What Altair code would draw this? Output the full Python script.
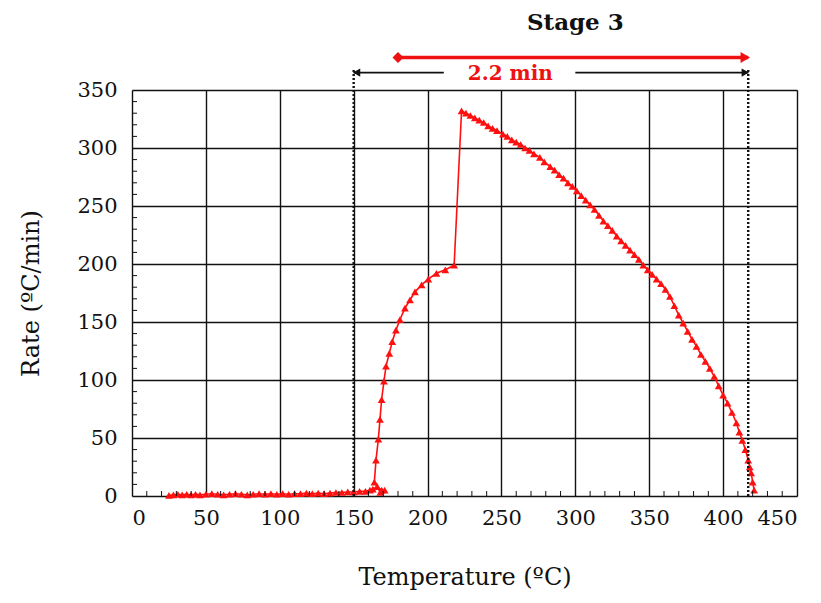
import altair as alt
import pandas as pd

# ---- data ----
temp = [25, 28, 31, 34, 37, 40, 43, 46, 50, 54, 58, 62, 66, 70, 74, 78, 82,
        86, 90, 94, 98, 102, 106, 110, 114, 118, 122, 126, 130, 134, 138,
        142, 146, 150, 154, 158, 161, 163,
        166, 169, 171, 168, 164,
        165.1, 166.7, 167.8, 168.9, 170.5, 171.9, 174.1, 176.1, 178.6, 181.3,
        184.7, 188.1, 191.5, 196, 200.5, 206, 212, 218,
        223, 226, 229, 232, 235, 238, 241, 244, 247, 251, 254, 257, 260, 263,
        266, 269, 272, 276, 279, 283, 286, 289, 292, 295, 298, 301, 304, 307,
        310, 313, 316, 319, 322, 325, 328, 331, 334, 337, 340, 343, 346, 349,
        352, 355, 358, 361, 364, 367, 370, 373, 376, 379, 382, 385, 388, 391,
        394, 397, 400, 403, 406, 409, 411, 413, 415, 417, 418, 419, 420, 421]
rate = [0.5, 1, 1.5, 1, 1.5, 1, 1.5, 1, 1.5, 2, 1.5, 1, 1.5, 2, 1.5, 1, 1.5,
        2, 1.5, 2, 1.5, 2, 1.5, 2, 2, 2.5, 2, 2.5, 2, 2.5, 3,
        3, 3.5, 3.5, 4, 4, 5, 6,
        8, 5, 5, 3, 12,
        31, 49, 66, 83, 99, 112, 123, 133, 143, 152,
        162, 169, 176, 182, 187, 192, 195, 199,
        332, 330, 328, 326, 324, 322, 319, 317, 315, 312, 310, 307, 305, 303,
        300, 298, 295, 292, 288, 284, 281, 277, 274, 270, 267, 263, 259, 255,
        251, 247, 242, 237, 233, 229, 224, 220, 216, 212, 208, 204, 199, 195,
        191, 187, 183, 178, 172, 164, 156, 149, 142, 135, 129, 122, 116, 110,
        103, 95, 87, 80, 72, 63, 55, 48, 40, 31, 25, 20, 12, 5]

x_ticks = [0, 50, 100, 150, 200, 250, 300, 350, 400, 450]
y_ticks = [0, 50, 100, 150, 200, 250, 300, 350]
x_minor = [v for v in range(10, 450, 10) if v % 50]
y_minor = [v for v in range(10, 350, 10) if v % 50]

stage_bounds = [150, 417]          # dotted lines (temperature)
dotted_top = 369                    # rate where dotted lines end
red_arrow = {"x1": 180, "x2": 417, "y": 378}
black_left = {"x1": 211, "x2": 150, "y": 365}
black_right = {"x1": 300, "x2": 417, "y": 365}

FONT = "DejaVu Serif"
RED = "#ff1010"

df = pd.DataFrame({"T": temp, "R": rate, "i": list(range(len(temp)))})

xs = alt.Scale(domain=[0, 450], nice=False, zero=False)
ys = alt.Scale(domain=[0, 350], nice=False, zero=False)

X = alt.X("T:Q", scale=xs, axis=alt.Axis(
    values=x_ticks, title="Temperature (ºC)", grid=True, ticks=False, domain=False,
    gridColor="#111", gridWidth=1.4, labelFont=FONT, labelFontSize=21,
    labelColor="#111", labelPadding=11, titleFont=FONT, titleFontSize=24,
    titleFontWeight="normal", titleColor="#111", titlePadding=37))
Y = alt.Y("R:Q", scale=ys, axis=alt.Axis(
    values=y_ticks, title="Rate (ºC/min)", grid=True, ticks=False, domain=False,
    gridColor="#111", gridWidth=1.4, labelFont=FONT, labelFontSize=21,
    labelColor="#111", labelPadding=15, titleFont=FONT, titleFontSize=24,
    titleFontWeight="normal", titleColor="#111", titlePadding=33))

base = alt.Chart(df)
line = base.mark_line(color=RED, strokeWidth=1.6).encode(x=X, y=Y, order="i:Q")
pts = base.mark_point(shape="triangle-up", filled=True, size=60, color=RED,
                      opacity=1).encode(x="T:Q", y="R:Q")

xm = alt.Chart(pd.DataFrame({"T": x_minor})).mark_rule(color="#111", strokeWidth=1).encode(
    x="T:Q", y=alt.value(406), y2=alt.value(401))
ym = alt.Chart(pd.DataFrame({"R": y_minor})).mark_rule(color="#111", strokeWidth=1).encode(
    y="R:Q", x=alt.value(0), x2=alt.value(5))

dots = alt.Chart(pd.DataFrame({"T": stage_bounds, "R0": [0, 0], "R1": [dotted_top] * 2})).mark_rule(
    color="#111", strokeWidth=2.4, strokeDash=[2, 2]).encode(x="T:Q", y="R0:Q", y2="R1:Q")

arr_df = pd.DataFrame([
    {"a": red_arrow["x1"], "b": red_arrow["x2"], "y": red_arrow["y"], "c": "red"},
    {"a": black_left["x1"], "b": black_left["x2"], "y": black_left["y"], "c": "black"},
    {"a": black_right["x1"], "b": black_right["x2"], "y": black_right["y"], "c": "black"},
])
red_line = alt.Chart(arr_df[arr_df.c == "red"]).mark_rule(color="#ee1111", strokeWidth=3.5).encode(
    x="a:Q", x2="b:Q", y="y:Q")
blk_line = alt.Chart(arr_df[arr_df.c == "black"]).mark_rule(color="#111", strokeWidth=1.8).encode(
    x="a:Q", x2="b:Q", y="y:Q")

red_diamond = alt.Chart(pd.DataFrame({"T": [red_arrow["x1"]], "R": [red_arrow["y"]]})).mark_point(
    shape="diamond", filled=True, size=120, color="#ee1111", opacity=1).encode(x="T:Q", y="R:Q")
red_head = alt.Chart(pd.DataFrame({"T": [red_arrow["x2"] - 2], "R": [red_arrow["y"]]})).mark_point(
    shape="triangle-right", filled=True, size=120, color="#ee1111", opacity=1).encode(x="T:Q", y="R:Q")
blk_head_l = alt.Chart(pd.DataFrame({"T": [black_left["x2"] + 2], "R": [black_left["y"]]})).mark_point(
    shape="triangle-left", filled=True, size=70, color="#111", opacity=1).encode(x="T:Q", y="R:Q")
blk_head_r = alt.Chart(pd.DataFrame({"T": [black_right["x2"] - 2], "R": [black_right["y"]]})).mark_point(
    shape="triangle-right", filled=True, size=70, color="#111", opacity=1).encode(x="T:Q", y="R:Q")

min_text = alt.Chart(pd.DataFrame({"T": [256], "R": [364], "t": ["2.2 min"]})).mark_text(
    font=FONT, fontSize=20, fontWeight="bold", color="#ee1111").encode(x="T:Q", y="R:Q", text="t:N")
stage_text = alt.Chart(pd.DataFrame({"T": [300], "R": [408], "t": ["Stage 3"]})).mark_text(
    font=FONT, fontSize=23, fontWeight="bold", color="#111").encode(x="T:Q", y="R:Q", text="t:N")

chart = alt.layer(line, pts, xm, ym, dots, red_line, blk_line, red_diamond, red_head,
                  blk_head_l, blk_head_r, min_text, stage_text).properties(
    width=665, height=406, autosize="none",
    padding={"left": 124, "top": 82, "right": 10, "bottom": 100},
).configure_view(stroke="#111", strokeWidth=1.5).configure(background="white")

chart.save("out.html", embed_options={"renderer": "svg", "actions": False})
